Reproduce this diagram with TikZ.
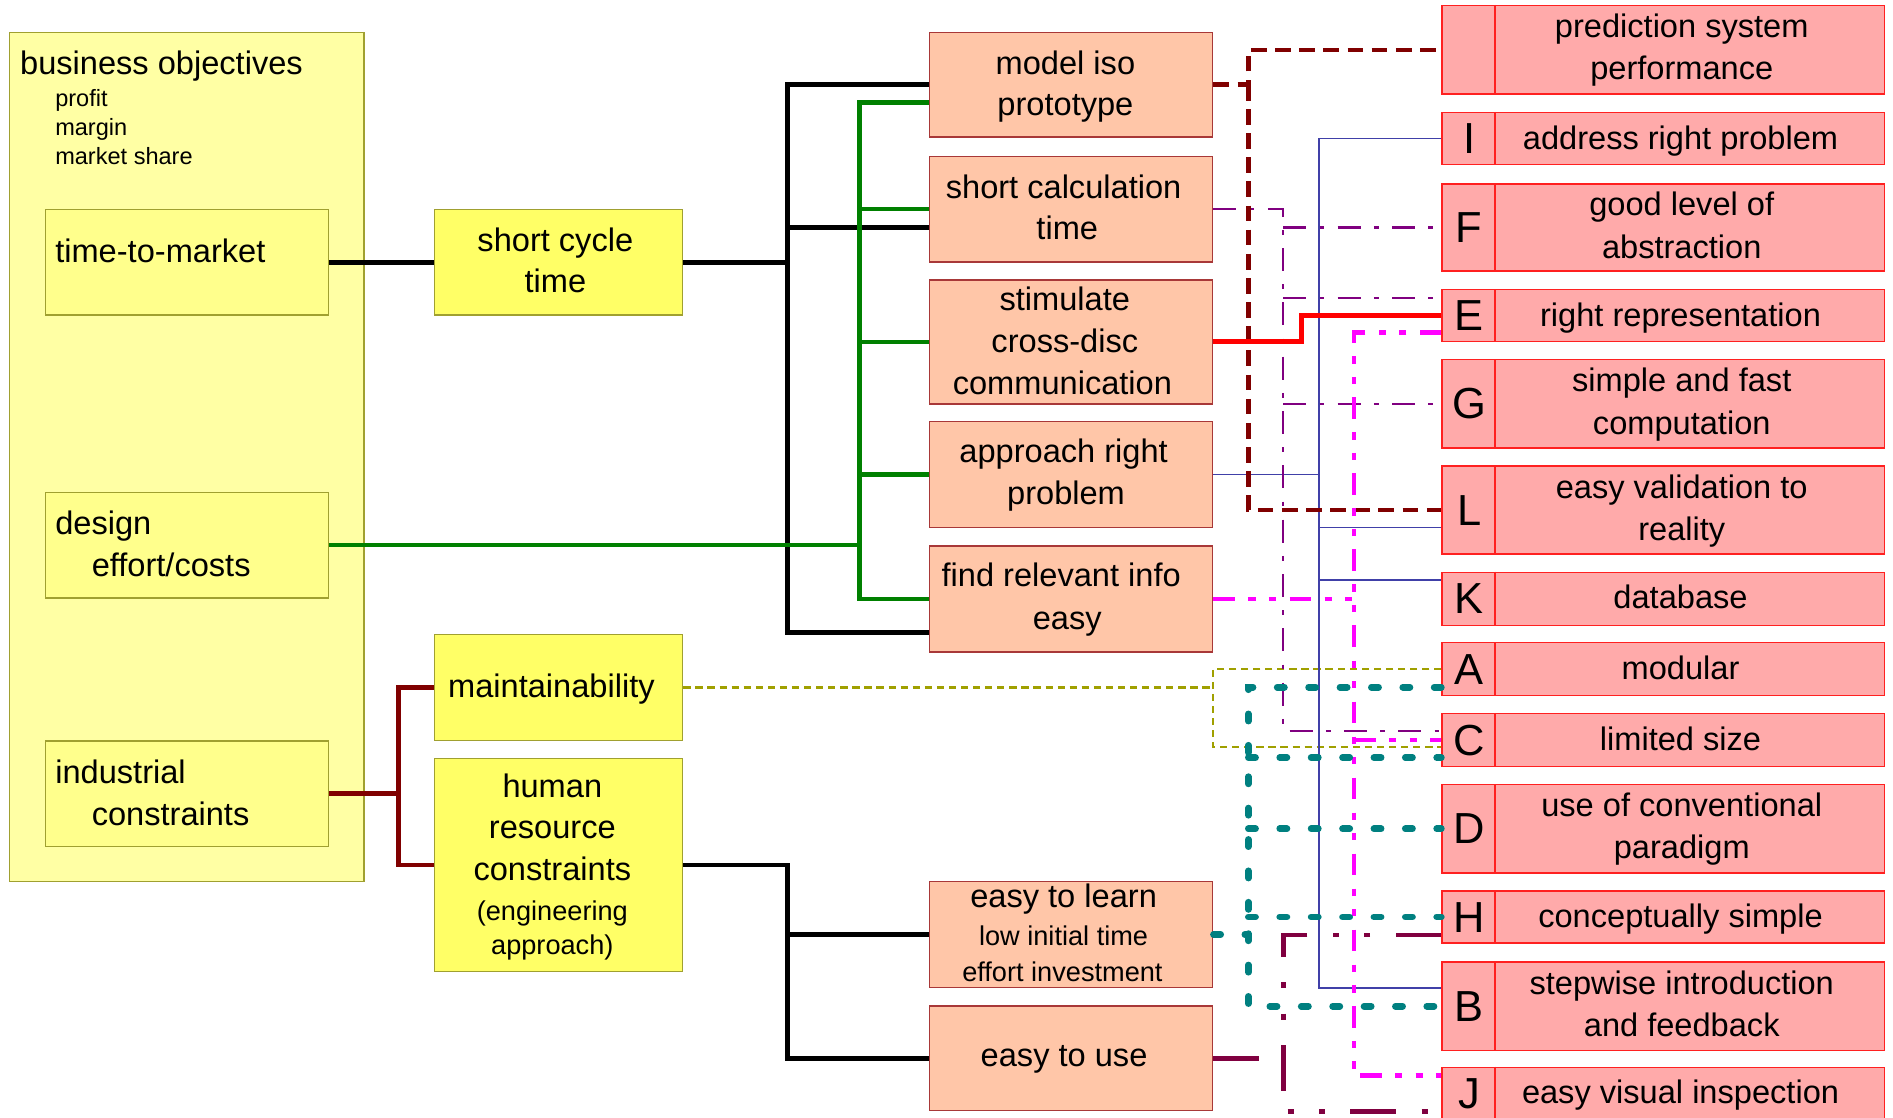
\documentclass[tikz,border=0pt]{standalone}
\usepackage{fontspec}
\setmainfont{Liberation Sans}
\definecolor{cy0}{HTML}{FFFFA4}
\definecolor{cy1}{HTML}{FFFF8C}
\definecolor{cy2}{HTML}{FFFF66}
\definecolor{colive}{HTML}{A0A030}
\definecolor{csal}{HTML}{FFC6A8}
\definecolor{csalb}{HTML}{A83838}
\definecolor{cpink}{HTML}{FFAAAA}
\definecolor{cpinkb}{HTML}{FF2020}
\definecolor{cgreen}{HTML}{008000}
\definecolor{cdred}{HTML}{800000}
\definecolor{cpur}{HTML}{800080}
\definecolor{cblue}{HTML}{4040A8}
\definecolor{colivl}{HTML}{A0A000}
\definecolor{cteal}{HTML}{008080}
\definecolor{cmaroon}{HTML}{800040}
\definecolor{cmag}{HTML}{FF00FF}
\definecolor{cred}{HTML}{FF0000}
\tikzset{
  ybox0/.style={draw=colive, fill=cy0, line width=1.2pt, inner sep=0pt},
  ybox1/.style={draw=colive, fill=cy1, line width=1.2pt, inner sep=0pt},
  ybox2/.style={draw=colive, fill=cy2, line width=1.2pt, inner sep=0pt},
  sbox/.style={draw=csalb, fill=csal, line width=1.2pt, inner sep=0pt},
  rbox/.style={draw=cpinkb, fill=cpink, line width=1.2pt, inner sep=0pt},
  rdiv/.style={draw=cpinkb, line width=1.2pt},
  txc/.style={anchor=base, inner sep=0pt, font=\fontsize{27}{32}\selectfont},
  txl/.style={txc, anchor=base west},
  txs/.style={txc, font=\fontsize{22.5}{27}\selectfont},
  txxs/.style={txl, font=\fontsize{19.5}{23}\selectfont},
  letr/.style={anchor=base, inner sep=0pt, font=\fontsize{36}{40}\selectfont},
  blk/.style={line width=4pt, black},
  grn/.style={line width=3.6pt, cgreen},
  indl/.style={line width=3.8pt, cdred},
  drd/.style={line width=4pt, cdred, dash pattern=on 13pt off 7pt},
  pur/.style={line width=1.7pt, cpur, dash pattern=on 19pt off 11pt on 4pt off 11pt},
  redl/.style={line width=4pt, cred},
  blu/.style={line width=1.4pt, cblue},
  mag/.style={line width=4pt, cmag, dash pattern=on 18pt off 11pt on 6pt off 11pt on 6pt off 11pt},
  oliv/.style={line width=1.7pt, colivl, dash pattern=on 6pt off 4pt},
  tdot/.style={line width=5.5pt, cteal, line cap=round, dash pattern=on 6pt off 20pt},
  mar/.style={line width=4pt, cmaroon, dash pattern=on 38pt off 21pt on 5pt off 21pt on 5pt off 21pt},
}
% name, style, x1, y1, x2, y2
\newcommand\mkbox[6]{\node[#2, minimum width={(#5-#3)*1pt}, minimum height={(#6-#4)*1pt}] (#1) at ({(#3+#5)/2},{(#4+#6)/2}) {};}
% name, letter, top, bottom, text
\newcommand\rone[5]{\mkbox{#1}{rbox}{1194.5}{#3}{1561}{#4}
  \draw[rdiv] ([xshift=44.5pt]#1.north west) -- ([xshift=44.5pt]#1.south west);
  \node[letr] (#1l) at (1217,{(#3+#4)/2+12.5}) {#2};
  \node[txc] (#1t) at (1392,{#3+30.4}) {#5};}
% name, letter, top, bottom, text1, text2
\newcommand\rtwo[6]{\mkbox{#1}{rbox}{1194.5}{#3}{1561}{#4}
  \draw[rdiv] ([xshift=44.5pt]#1.north west) -- ([xshift=44.5pt]#1.south west);
  \node[letr] (#1l) at (1217,{(#3+#4)/2+12.5}) {#2};
  \node[txc] (#1ta) at (1393,{#3+26.5}) {#5};
  \node[txc] (#1tb) at (1393,{#3+61.5}) {#6};}
\begin{document}
\begin{tikzpicture}[x=1pt,y=-1pt]
\useasboundingbox (0,0) rectangle (1568,926);
\clip (0,0) rectangle (1568,926);
\fill[white] (0,0) rectangle (1568,926);

% ---------- left column ----------
\mkbox{bo}{ybox0}{8}{27}{301.5}{730}
\node[txl] (bo1) at (16.5,61.6) {business objectives};
\node[txxs] (bo2) at (45.6,88.4) {profit};
\node[txxs] (bo3) at (45.6,112.4) {margin};
\node[txxs] (bo4) at (45.6,136.1) {market share};

\mkbox{ttm}{ybox1}{37.5}{173.4}{272}{261}
\node[txl] (ttm1) at (45.6,217.6) {time-to-market};
\mkbox{dec}{ybox1}{37.5}{407.8}{272}{495.5}
\node[txl] (dec1) at (45.6,442.4) {design};
\node[txl] (dec2) at (75.8,477.4) {effort/costs};
\mkbox{ind}{ybox1}{37.5}{613.8}{272}{701}
\node[txl] (ind1) at (45.6,648.7) {industrial};
\node[txl] (ind2) at (75.8,683.6) {constraints};

% ---------- second column ----------
\mkbox{sct}{ybox2}{360}{173.4}{565.4}{261}
\node[txc] (sct1) at (460,208.5) {short cycle};
\node[txc] (sct2) at (460,242.6) {time};
\mkbox{mt}{ybox2}{360}{525.4}{565.4}{613.5}
\node[txl] (mt1) at (371,577.7) {maintainability};
\mkbox{hr}{ybox2}{360}{628.3}{565.4}{804.6}
\node[txc] (hr1) at (457.5,660.6) {human};
\node[txc] (hr2) at (457.5,694.6) {resource};
\node[txc] (hr3) at (457.5,729.2) {constraints};
\node[txs] (hr4) at (457.5,762.6) {(engineering};
\node[txs] (hr5) at (457.5,790.7) {approach)};

% ---------- middle column ----------
\mkbox{mi}{sbox}{770}{27}{1004.5}{113.6}
\node[txc] (mi1) at (882.5,62) {model iso};
\node[txc] (mi2) at (882.5,95.9) {prototype};
\mkbox{sc}{sbox}{770}{129.7}{1004.5}{217}
\node[txc] (sc1) at (881,164.6) {short calculation};
\node[txc] (sc2) at (884,198.7) {time};
\mkbox{st}{sbox}{770}{231.8}{1004.5}{334.6}
\node[txc] (st1) at (882,257.3) {stimulate};
\node[txc] (st2) at (882,292.1) {cross-disc};
\node[txc] (st3) at (880,326.7) {communication};
\mkbox{ap}{sbox}{770}{349.3}{1004.5}{436.9}
\node[txc] (ap1) at (881,383.5) {approach right};
\node[txc] (ap2) at (883,417.6) {problem};
\mkbox{fr}{sbox}{770}{452.2}{1004.5}{540}
\node[txc] (fr1) at (879,485.6) {find relevant info};
\node[txc] (fr2) at (884,521.2) {easy};
\mkbox{el}{sbox}{770}{730.3}{1004.5}{817.8}
\node[txc] (el1) at (881,752) {easy to learn};
\node[txs] (el2) at (881,783) {low initial time};
\node[txs] (el3) at (880,813) {effort investment};
\mkbox{eu}{sbox}{770}{833.3}{1004.5}{920}
\node[txc] (eu1) at (881.4,883.5) {easy to use};

% ---------- right column ----------
\rtwo{pr}{}{4.7}{78}{prediction system}{performance}
\rone{rI}{I}{93.3}{136.1}{address right problem}
\rtwo{rF}{F}{152.4}{224.5}{good level of}{abstraction}
\rone{rE}{E}{240}{283}{right representation}
\rtwo{rG}{G}{298}{371}{simple and fast}{computation}
\rtwo{rL}{L}{386}{459}{easy validation to}{reality}
\rone{rK}{K}{474}{518}{database}
\rone{rA}{A}{532.4}{576}{modular}
\rone{rC}{C}{591}{635}{limited size}
\rtwo{rD}{D}{650}{723}{use of conventional}{paradigm}
\rone{rH}{H}{738}{781}{conceptually simple}
\rtwo{rB}{B}{797}{870}{stepwise introduction}{and feedback}
\rone{rJ}{J}{884}{928}{easy visual inspection}

% ---------- junction x positions ----------
\coordinate (xbk) at (652,0);
\coordinate (xgn) at (712,0);
\coordinate (xir) at (330,0);
\coordinate (xdr) at (1034,0);
\coordinate (xpu) at (1063,0);
\coordinate (xrd) at (1078,0);
\coordinate (xbl) at (1092.5,0);
\coordinate (xmg) at (1121.5,0);
\coordinate (xol) at (1004.5,0);
\coordinate (xtl) at (1034,0);
\coordinate (xmr) at (1063,0);

% ---------- left connectors ----------
\draw[blk] (ttm.east) -- (sct.west);
\draw[blk] (sct.east) -- (sct.east -| xbk);
\coordinate (frb) at ([yshift=-28pt]fr.west);
\coordinate (scb) at ([yshift=-15pt]sc.west);
\draw[blk] (mi.west) -- (mi.west -| xbk) -- (frb -| xbk) -- (frb);
\draw[blk] (scb -| xbk) -- (scb);

\coordinate (mig) at ([yshift=-14.5pt]mi.west);
\draw[grn] (dec.east) -- (dec.east -| xgn);
\draw[grn] (mig) -- (mig -| xgn) -- (fr.west -| xgn) -- (fr.west);
\draw[grn] (sc.west -| xgn) -- (sc.west);
\draw[grn] (st.west -| xgn) -- (st.west);
\draw[grn] (ap.west -| xgn) -- (ap.west);

\draw[indl] (ind.east) -- (ind.east -| xir);
\draw[indl] (mt.west) -- (mt.west -| xir) -- (hr.west -| xir) -- (hr.west);

\draw[blk] (hr.east) -- (hr.east -| xbk) -- (eu.west -| xbk) -- (eu.west);
\draw[blk] (el.west -| xbk) -- (el.west);

% ---------- right connectors ----------
% olive: maintainability -> A, C
\coordinate (cCo) at ([yshift=-5.7pt]rC.west);
\draw[oliv] (mt.east) -- (mt.east -| xol);
\draw[oliv] (rA.west) -- (rA.west -| xol) -- (cCo -| xol) -- (cCo);

% blue: approach right problem -> I, L, K, B
\coordinate (cLb) at ([yshift=-14.5pt]rL.west);
\coordinate (cKb) at ([yshift=15.5pt]rK.west);
\coordinate (cBb) at ([yshift=15.4pt]rB.west);
\draw[blu] (ap.east) -- (ap.east -| xbl);
\draw[blu] (rI.west) -- (rI.west -| xbl) -- (cBb -| xbl) -- (cBb);
\draw[blu] (cLb -| xbl) -- (cLb);
\draw[blu] (cKb -| xbl) -- (cKb);

% purple: short calculation time -> F, E, G, C
\coordinate (cEp) at ([yshift=15pt]rE.west);
\coordinate (cCp) at ([yshift=7.8pt]rC.west);
\draw[pur] (sc.east) -- (sc.east -| xpu) -- (cCp -| xpu) -- (cCp);
\draw[pur] (rF.west -| xpu) -- (rF.west);
\draw[pur] (cEp -| xpu) -- (cEp);
\draw[pur] (rG.west -| xpu) -- (rG.west);

% dark red dashed: model iso prototype -> prediction, L
\draw[drd] (mi.east) -- (mi.east -| xdr) -- (pr.west -| xdr) -- (pr.west);
\draw[drd] (mi.east -| xdr) -- (rL.west -| xdr) -- (rL.west);

% red: stimulate -> E
\draw[redl] (st.east) -- (st.east -| xrd) -- (rE.west -| xrd) -- (rE.west);

% magenta: find relevant info -> E, C, J
\coordinate (cEm) at ([yshift=-14pt]rE.west);
\coordinate (cJm) at ([yshift=15pt]rJ.west);
\draw[mag] (fr.east) -- (fr.east -| xmg);
\draw[mag] (cEm) -- (cEm -| xmg) -- (cJm -| xmg) -- (cJm);
\draw[mag] (rC.west -| xmg) -- (rC.west);

% teal: easy to learn -> A, C, D, H, B
\coordinate (cAt) at ([yshift=-15pt]rA.west);
\coordinate (cCt) at ([yshift=-14.5pt]rC.west);
\draw[tdot] (el.east) -- (el.east -| xtl);
\draw[tdot] (cAt) -- (cAt -| xtl) -- (rB.west -| xtl) -- (rB.west);
\draw[tdot] (cCt -| xtl) -- (cCt);
\draw[tdot] (rD.west -| xtl) -- (rD.west);
\draw[tdot] (rH.west -| xtl) -- (rH.west);

% maroon: easy to use -> H, J
\coordinate (cHm) at ([yshift=-15pt]rH.west);
\coordinate (cJr) at ([yshift=-15pt]rJ.west);
\draw[mar] (eu.east) -- (eu.east -| xmr);
\draw[mar] (cHm) -- (cHm -| xmr) -- (cJr -| xmr) -- (cJr);
\end{tikzpicture}
\end{document}
